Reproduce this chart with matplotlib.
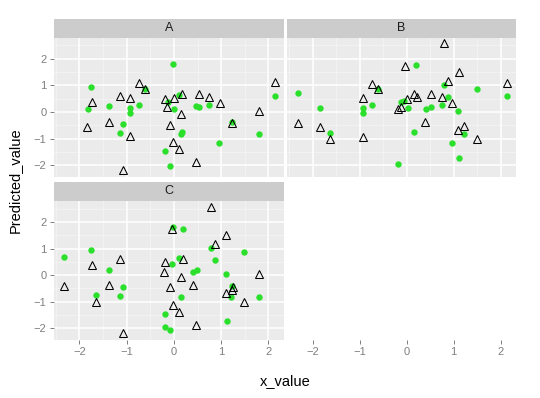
import matplotlib
matplotlib.use("Agg")
import matplotlib.pyplot as plt

plt.rcParams["font.family"] = ["Liberation Sans", "DejaVu Sans"]

# panel A
tri_x_A = [-1.84, -1.73, -1.38, -1.15, -0.94, -0.92, -1.08, -0.75, -0.62, -0.19, -0.14, -0.09,
           -0.01, 0.01, 0.11, 0.14, 0.17, 0.52, 0.47, 0.75, 0.97, 1.23, 1.81, 2.14]
tri_y_A = [-0.55, 0.36, -0.36, 0.60, -0.91, 0.54, -2.18, 1.08, 0.87, 0.50, 0.18, -0.47,
           -1.14, 0.52, -1.38, -0.08, 0.69, 0.67, -1.87, 0.55, 0.34, -0.43, 0.04, 1.11]
pt_x_A = [-1.75, -1.83, -1.38, -1.08, -1.15, -0.92, -0.94, -0.74, -0.62, -0.13, -0.02, 0.01,
          0.11, 0.14, 0.16, -0.18, -0.09, 0.47, 0.52, 0.75, 0.96, 1.23, 1.81, 2.14]
pt_y_A = [0.93, 0.13, 0.23, -0.44, -0.79, 0.16, -0.04, 0.25, 0.86, 0.38, 1.81, 0.13,
          0.64, -0.83, -0.75, -1.47, -2.04, 0.23, 0.19, 0.25, -1.18, -0.38, -0.83, 0.60]

# panel B
tri_x_B = [-2.32, -1.84, -1.63, -0.94, -0.92, -0.74, -0.62, -0.19, -0.12, 0.01, -0.04, 0.16,
           0.21, 0.40, 0.52, 0.75, 0.80, 0.88, 0.96, 1.12, 1.10, 1.23, 1.49, 2.14]
tri_y_B = [-0.43, -0.57, -1.02, -0.92, 0.54, 1.06, 0.86, 0.11, 0.18, 0.50, 1.72, 0.69,
           0.58, -0.38, 0.67, 0.57, 2.58, 1.17, 0.34, 1.51, -0.68, -0.53, -1.02, 1.09]
pt_x_B = [-2.32, -1.84, -1.63, -0.92, -0.94, -0.73, -0.62, -0.12, -0.06, 0.02, 0.20, 0.16,
          -0.19, 0.41, 0.52, 0.76, 0.80, 0.88, 1.10, 0.96, 1.11, 1.22, 1.49, 2.14]
pt_y_B = [0.70, 0.14, -0.77, 0.16, -0.04, 0.25, 0.86, 0.36, 0.43, 0.14, 1.75, -0.75,
          -1.96, 0.11, 0.19, 0.25, 1.03, 0.55, 0.05, -1.18, -1.72, -0.83, 0.88, 0.60]

# panel C
tri_x_C = [-2.32, -1.73, -1.64, -1.38, -1.15, -1.08, -0.19, -0.20, -0.09, -0.04, -0.01, 0.11,
           0.14, 0.20, 0.40, 0.47, 0.79, 0.87, 1.11, 1.10, 1.23, 1.24, 1.48, 1.81]
tri_y_C = [-0.42, 0.38, -1.01, -0.38, 0.60, -2.16, 0.50, 0.13, -0.45, 1.74, -1.14, -1.38,
           -0.08, 0.60, -0.38, -1.87, 2.57, 1.18, 1.50, -0.68, -0.54, -0.43, -1.02, 0.05]
pt_x_C = [-2.32, -1.75, -1.64, -1.38, -1.08, -1.15, -0.04, -0.02, 0.20, 0.11, 0.14, -0.19,
          -0.18, -0.09, 0.40, 0.48, 0.79, 0.87, 1.10, 1.12, 1.23, 1.21, 1.48, 1.81]
pt_y_C = [0.69, 0.93, -0.73, 0.21, -0.44, -0.79, 0.43, 1.80, 1.74, 0.64, -0.83, -1.47,
          -1.96, -2.05, 0.10, 0.20, 1.03, 0.58, 0.04, -1.71, -0.40, -0.83, 0.87, -0.82]

panels = ["A", "B", "C"]
ticks = [-2, -1, 0, 1, 2]
minor = [-2.5, -1.5, -0.5, 0.5, 1.5, 2.5]

W, H = 540, 398
fig = plt.figure(figsize=(W / 100, H / 100), dpi=100)


def box(x0, y0, x1, y1):
    return [x0 / W, 1 - y1 / H, (x1 - x0) / W, (y1 - y0) / H]


xlim = (-2.55, 2.33)
ylim = (-2.44, 2.79)
grey = "#7F7F7F"


def panel(rect, strip_rect, label, tx, ty, px, py, show_x, show_y):
    ax = fig.add_axes(rect)
    ax.set_facecolor("#EBEBEB")
    ax.set_xlim(xlim)
    ax.set_ylim(ylim)
    for v in minor:
        ax.axvline(v, color="#F4F4F4", lw=0.6, zorder=0)
        ax.axhline(v, color="#F4F4F4", lw=0.6, zorder=0)
    for v in ticks:
        ax.axvline(v, color="white", lw=1.1, zorder=0.5)
        ax.axhline(v, color="white", lw=1.1, zorder=0.5)
    ax.plot(px, py, "o", color="#2BE02B", markersize=4.6, markeredgewidth=0, zorder=2)
    ax.plot(tx, ty, "^", markerfacecolor="none", markeredgecolor="black",
            markersize=5.8, markeredgewidth=0.75, zorder=3)
    for s in ax.spines.values():
        s.set_visible(False)
    ax.set_xticks(ticks)
    ax.set_yticks(ticks)
    ax.tick_params(length=3, width=0.7, color=grey, labelcolor=grey, labelsize=8, pad=2)
    if not show_x:
        ax.tick_params(axis="x", length=0, labelbottom=False)
    if not show_y:
        ax.tick_params(axis="y", length=0, labelleft=False)
    sax = fig.add_axes(strip_rect)
    sax.set_facecolor("#CCCCCC")
    sax.set_xticks([])
    sax.set_yticks([])
    for s in sax.spines.values():
        s.set_visible(False)
    sax.text(0.5, 0.5, label, ha="center", va="center", fontsize=9, color="#1A1A1A")
    return ax


panel(box(53.5, 37.7, 284, 177), box(53.5, 18.5, 284, 37.7), "A",
      tri_x_A, tri_y_A, pt_x_A, pt_y_A, False, True)
panel(box(287, 37.7, 516, 177), box(287, 18.5, 516, 37.7), "B",
      tri_x_B, tri_y_B, pt_x_B, pt_y_B, False, False)
panel(box(53.5, 201, 284, 340), box(53.5, 182, 284, 201), "C",
      tri_x_C, tri_y_C, pt_x_C, pt_y_C, True, True)

# x axis under the empty slot
ex = fig.add_axes(box(287, 201, 516, 340))
ex.set_facecolor("none")
ex.set_xlim(xlim)
ex.set_xticks(ticks)
ex.set_yticks([])
for s in ex.spines.values():
    s.set_visible(False)
ex.tick_params(length=3, width=0.7, color=grey, labelcolor=grey, labelsize=8, pad=2)

fig.text(285 / W, 1 - 381 / H, "x_value", ha="center", va="center", fontsize=10.5)
fig.text(15 / W, 1 - 180 / H, "Predicted_value", ha="center", va="center",
         rotation=90, fontsize=10.5)

fig.savefig("out.png", dpi=100)
